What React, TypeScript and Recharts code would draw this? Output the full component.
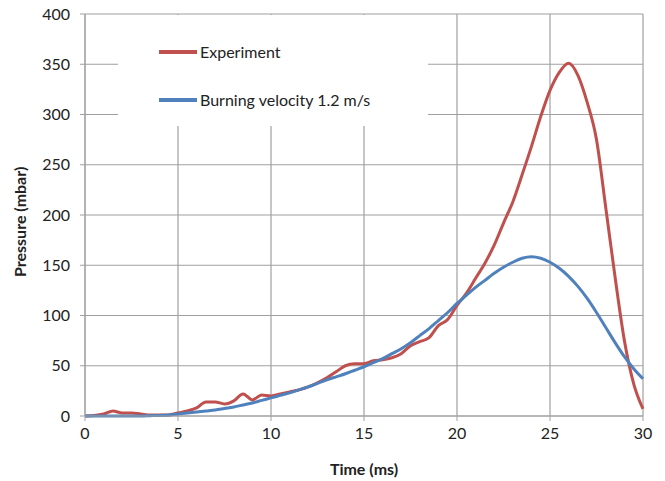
import React from "react";
import { LineChart, Line, XAxis, YAxis, CartesianGrid } from "recharts";

const times = [0,0.5,1,1.5,2,2.5,3,3.5,4,4.5,5,5.5,6,6.5,7,7.5,8,8.5,9,9.5,10,10.5,11,11.5,12,12.5,13,13.5,14,14.5,15,15.5,16,16.5,17,17.5,18,18.5,19,19.5,20,20.5,21,21.5,22,22.5,23,23.5,24,24.5,25,25.5,26,26.5,27,27.5,28,28.5,29,29.5,30];
const experiment = [0,0.5,2,5,3,3,2,1,1,1,3,5,8,14,14,12,15,22,16,21,20,22,24,26,29,33,38,44,50,52,52,55,56,58,62,70,74,78,90,96,110,122,137,152,170,192,213,240,268,298,324,342,351,339,312,275,207,138,75,32,7];
const model = [0,0,0,0,0,0,0,0.3,0.6,1,2,3,4,5,6,7.5,9,11,13,15.5,18,20.5,23,26,29,32.5,36,39,42,45.5,49,53,57,62,67,73,80,87,95,103,112,120,128,135,142,148,153,157,158.5,157,153,147,139,129,117,103,88,73,59,47,37];
const xTicks = [0,5,10,15,20,25,30];
const yTicks = [0,50,100,150,200,250,300,350,400];
const seriesNames = ["Experiment", "Burning velocity 1.2 m/s"];
const colors = ["#C0504D", "#4F81BD"];

const data = times.map((t, i) => ({ t, experiment: experiment[i], model: model[i] }));

const FONT = "Lato, 'Open Sans', sans-serif";

export default function App() {
  return (
    <div style={{ position: "absolute", left: 0, top: 0, width: 665, height: 481, background: "#fff" }}>
      <LineChart width={665} height={481} data={data} margin={{ top: 14, right: 22, left: 0, bottom: 0 }}>
        <CartesianGrid stroke="#a0a0a0" strokeWidth={1.2} />
        <XAxis
          dataKey="t"
          type="number"
          domain={[0, 30]}
          ticks={xTicks}
          height={65}
          tickSize={5}
          tickMargin={7}
          stroke="#a0a0a0"
          tick={{ fill: "#222", fontSize: 16, fontFamily: FONT }}
          label={{ value: "Time (ms)", position: "insideBottom", offset: 6, fill: "#222", fontSize: 16, fontWeight: "bold", fontFamily: FONT }}
        />
        <YAxis
          type="number"
          domain={[0, 400]}
          ticks={yTicks}
          width={85}
          tickSize={5}
          tickMargin={10}
          stroke="#a0a0a0"
          tick={{ fill: "#222", fontSize: 16, fontFamily: FONT }}
          label={{ value: "Pressure (mbar)", angle: -90, position: "insideLeft", offset: 20, dy: 62, fill: "#222", fontSize: 16, fontWeight: "bold", fontFamily: FONT }}
        />
        <Line type="monotone" dataKey="experiment" name={seriesNames[0]} stroke={colors[0]} strokeWidth={3} dot={false} isAnimationActive={false} />
        <Line type="monotone" dataKey="model" name={seriesNames[1]} stroke={colors[1]} strokeWidth={3} dot={false} isAnimationActive={false} />
      </LineChart>
      <div style={{ position: "absolute", left: 118, top: 15, width: 310, height: 111, background: "#fff", fontFamily: FONT }}>
        {seriesNames.map((n, i) => (
          <div key={n} style={{ position: "absolute", left: 41, top: 27 + i * 48, display: "flex", alignItems: "center" }}>
            <div style={{ width: 38, height: 4, background: colors[i], marginRight: 3 }} />
            <span style={{ fontSize: 16, color: "#222", lineHeight: "20px" }}>{n}</span>
          </div>
        ))}
      </div>
    </div>
  );
}
